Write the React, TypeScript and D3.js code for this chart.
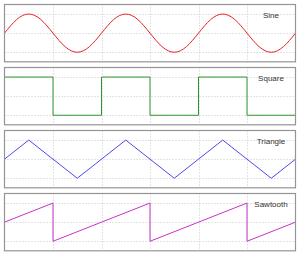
import React, { useEffect, useRef } from 'react';
import * as d3 from 'd3';

// x is measured in grid divisions (one division = half a period)
const xTicks = [1, 2, 3, 4, 5];
const yTicks = [-1, 0, 1];

const sineX = [0, 0.25, 0.5, 0.75, 1, 1.25, 1.5, 1.75, 2, 2.25, 2.5, 2.75, 3, 3.25, 3.5, 3.75, 4, 4.25, 4.5, 4.75, 5, 5.25, 5.5, 5.75, 6];
const sineY = [0, 0.71, 1, 0.71, 0, -0.71, -1, -0.71, 0, 0.71, 1, 0.71, 0, -0.71, -1, -0.71, 0, 0.71, 1, 0.71, 0, -0.71, -1, -0.71, 0];

const squareX = [0, 1, 1, 2, 2, 3, 3, 4, 4, 5, 5, 6];
const squareY = [1, 1, -1, -1, 1, 1, -1, -1, 1, 1, -1, -1];

const triangleX = [0, 0.5, 1.5, 2.5, 3.5, 4.5, 5.5, 6];
const triangleY = [0, 1, -1, 1, -1, 1, -1, 0];

const sawX = [0, 1, 1, 3, 3, 5, 5, 6];
const sawY = [0, 1, -1, 1, -1, 1, -1, 0];

const names = ['Sine', 'Square', 'Triangle', 'Sawtooth'];
const colors = ['#e8202a', '#2e962e', '#4a4af0', '#c832c8'];

const App = () => {
    const svgRef = useRef<SVGSVGElement>(null);

    useEffect(() => {
        const series = [
            { xs: sineX, ys: sineY, curve: d3.curveNatural },
            { xs: squareX, ys: squareY, curve: d3.curveLinear },
            { xs: triangleX, ys: triangleY, curve: d3.curveLinear },
            { xs: sawX, ys: sawY, curve: d3.curveLinear },
        ];

        const svg = d3.select(svgRef.current);
        svg.selectAll('*').remove();

        const left = 4.5, right = 295.5;
        const panelH = 57.3, pitch = 63;

        const x = d3.scaleLinear().domain([0, 6]).range([left, right]);

        series.forEach((s, i) => {
            const top = 4.5 + pitch * i;
            const y = d3.scaleLinear().domain([-1.5, 1.5]).range([top + panelH, top]);
            const g = svg.append('g');

            // dotted grid
            g.selectAll('.vx')
                .data(xTicks)
                .join('line')
                .attr('x1', d => Math.round(x(d)) + 0.5)
                .attr('x2', d => Math.round(x(d)) + 0.5)
                .attr('y1', top)
                .attr('y2', top + panelH)
                .attr('stroke', '#c8c8c8')
                .attr('stroke-dasharray', '1,2');

            g.selectAll('.hy')
                .data(yTicks)
                .join('line')
                .attr('x1', left)
                .attr('x2', right)
                .attr('y1', d => Math.round(y(d)) + 0.5)
                .attr('y2', d => Math.round(y(d)) + 0.5)
                .attr('stroke', '#c8c8c8')
                .attr('stroke-dasharray', '1,2');

            const pts = s.xs.map((v, k) => [v, s.ys[k]] as [number, number]);
            const line = d3.line<[number, number]>()
                .x(d => x(d[0]))
                .y(d => y(d[1]))
                .curve(s.curve);

            g.append('path')
                .datum(pts)
                .attr('fill', 'none')
                .attr('stroke', colors[i])
                .attr('stroke-width', 1)
                .attr('d', line);

            g.append('rect')
                .attr('x', left)
                .attr('y', top)
                .attr('width', right - left)
                .attr('height', panelH)
                .attr('fill', 'none')
                .attr('stroke', '#959595')
                .attr('stroke-width', 1.2);

            g.append('text')
                .attr('x', 271)
                .attr('y', top + 13)
                .attr('text-anchor', 'middle')
                .attr('font-family', '"Liberation Sans", Arial, sans-serif')
                .attr('font-size', 8)
                .attr('fill', '#333')
                .text(names[i]);
        });
    }, []);

    return (
        <svg
            ref={svgRef}
            width={300}
            height={256}
            style={{ position: 'absolute', left: 0, top: 0, background: '#fff' }}
        />
    );
};

export default App;
